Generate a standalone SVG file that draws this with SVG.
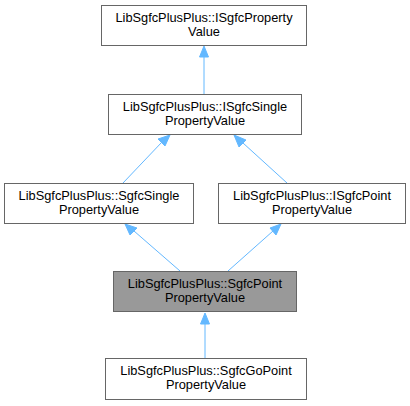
<svg xmlns="http://www.w3.org/2000/svg" width="410" height="406" viewBox="0 0 410 406">
<defs>
<style>
.box{fill:#ffffff;stroke:#666666;stroke-width:1}
.cur{fill:#999999;stroke:#666666;stroke-width:1}
.t{font-family:"Liberation Sans",Arial,Helvetica,sans-serif;font-size:12.8px;fill:#000000;text-anchor:middle}
.e{stroke:#63b8ff;stroke-width:1;fill:none}
.h{fill:#63b8ff;stroke:#63b8ff}
</style>
</defs>
<rect width="410" height="406" fill="#ffffff"/>
<g id="edges">
<line class="e" x1="204" y1="94" x2="204" y2="57"/>
<polygon class="h" points="204,46 199.5,57 208.5,57"/>
<line class="e" x1="123" y1="183" x2="162" y2="142"/>
<polygon class="h" points="170,135 158,139 165,146"/>
<line class="e" x1="287" y1="183" x2="243" y2="143"/>
<polygon class="h" points="234,135 239,147 246,140"/>
<line class="e" x1="180" y1="271" x2="134" y2="231"/>
<polygon class="h" points="125,224 130,235 137,228"/>
<line class="e" x1="228" y1="271" x2="273" y2="231"/>
<polygon class="h" points="281,224 270,228 276,235"/>
<line class="e" x1="205" y1="358" x2="205" y2="324"/>
<polygon class="h" points="205,313 200.5,324 209.5,324"/>
</g>
<g id="node1">
<rect class="box" x="101.5" y="5.5" width="205" height="40"/>
<text class="t" x="204" y="22">LibSgfcPlusPlus::ISgfcProperty</text>
<text class="t" x="204" y="36">Value</text>
</g>
<g id="node2">
<rect class="box" x="108.5" y="94.5" width="193" height="40"/>
<text class="t" x="205" y="111">LibSgfcPlusPlus::ISgfcSingle</text>
<text class="t" x="205" y="125">PropertyValue</text>
</g>
<g id="node3">
<rect class="box" x="4.5" y="183.5" width="189" height="40"/>
<text class="t" x="99" y="200">LibSgfcPlusPlus::SgfcSingle</text>
<text class="t" x="99" y="214">PropertyValue</text>
</g>
<g id="node4">
<rect class="box" x="218.5" y="183.5" width="187" height="40"/>
<text class="t" x="312" y="200">LibSgfcPlusPlus::ISgfcPoint</text>
<text class="t" x="312" y="214">PropertyValue</text>
</g>
<g id="node5">
<rect class="cur" x="113.5" y="271.5" width="183" height="40"/>
<text class="t" x="205" y="288">LibSgfcPlusPlus::SgfcPoint</text>
<text class="t" x="205" y="302">PropertyValue</text>
</g>
<g id="node6">
<rect class="box" x="105.5" y="358.5" width="201" height="41"/>
<text class="t" x="206" y="375">LibSgfcPlusPlus::SgfcGoPoint</text>
<text class="t" x="206" y="389">PropertyValue</text>
</g>
</svg>
